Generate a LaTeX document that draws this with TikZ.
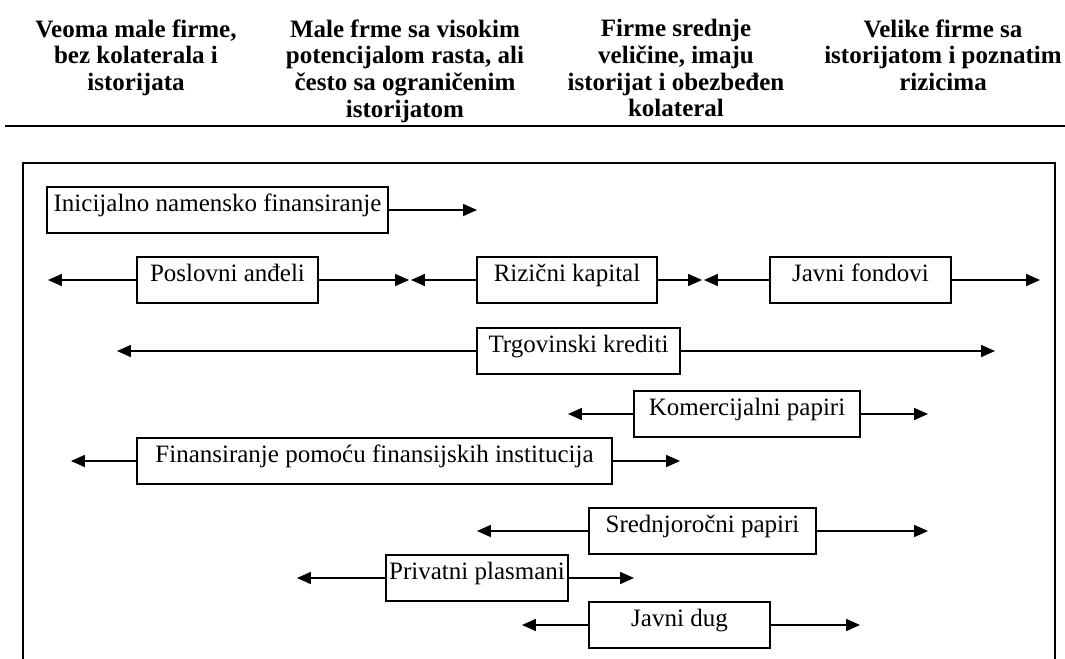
\documentclass[tikz,border=0pt]{standalone}
\usepackage{fontspec}
\setmainfont{Liberation Serif}
\usetikzlibrary{arrows.meta}
\begin{document}
\begin{tikzpicture}[x=0.48pt,y=-0.48pt,
  box/.style={draw, line width=0.75pt, inner sep=0pt, text height=11.76pt, text depth=10.32pt, font=\fontsize{12}{14}\selectfont},
  hdr/.style={anchor=north, inner sep=0pt, align=center, font=\fontsize{12}{12.8}\selectfont\bfseries},
  arr/.style={line width=0.72pt, -{Triangle[length=6.7pt,width=5.8pt]}},
  rulestyle/.style={line width=1.2pt},
  framestyle/.style={line width=0.8pt}
]
\useasboundingbox (0,0) rectangle (1065,658);

% header
\node[hdr] (h1) at (136,19) {Veoma male firme,\\bez kolaterala i\\istorijata};
\node[hdr] (h2) at (405,19) {Male frme sa visokim\\potencijalom rasta, ali\\često sa ograničenim\\istorijatom};
\node[hdr] (h3) at (676,19) {Firme srednje\\veličine, imaju\\istorijat i obezbeđen\\kolateral};
\node[hdr] (h4) at (943,19) {Velike firme sa\\istorijatom i poznatim\\rizicima};
\draw[rulestyle] (5,126) -- (1065,126);

% frame
\draw[framestyle] (23,660) -- (23,163) -- (1055,163) -- (1055,660);

% boxes
\node[box, minimum width=163.68pt] (inic) at (217.5,210) {Inicijalno namensko finansiranje};
\node[box, minimum width=86.88pt] (posl) at (227.5,280) {Poslovni anđeli};
\node[box, minimum width=86.4pt] (rizi) at (567,280) {Rizični kapital};
\node[box, minimum width=86.88pt] (jfon) at (860.5,280) {Javni fondovi};
\node[box, minimum width=97.44pt] (trgo) at (578.5,351) {Trgovinski krediti};
\node[box, minimum width=108.48pt] (kome) at (747,414) {Komercijalni papiri};
\node[box, minimum width=228pt] (fina) at (374.5,461) {Finansiranje pomoću finansijskih institucija};
\node[box, minimum width=108.96pt] (sred) at (702.5,531) {Srednjoročni papiri};
\node[box, minimum width=87.36pt] (priv) at (477,578) {Privatni plasmani};
\node[box, minimum width=86.88pt] (jdug) at (679.5,625) {Javni dug};

% arrow tips
\coordinate (inicR) at (477,210);
\coordinate (poslL) at (48,280);
\coordinate (poslR) at (409,280);
\coordinate (riziL) at (411,280);
\coordinate (riziR) at (702,280);
\coordinate (jfonL) at (704,280);
\coordinate (jfonR) at (1040,280);
\coordinate (trgoL) at (117,351);
\coordinate (trgoR) at (995,351);
\coordinate (komeL) at (568,414);
\coordinate (komeR) at (928,414);
\coordinate (finaL) at (71,461);
\coordinate (finaR) at (680,461);
\coordinate (sredL) at (477,531);
\coordinate (sredR) at (928,531);
\coordinate (privL) at (297,578);
\coordinate (privR) at (634,578);
\coordinate (jdugL) at (522,625);
\coordinate (jdugR) at (860,625);

% arrows
\draw[arr] (inic.east) -- (inicR);
\draw[arr] (posl.west) -- (poslL);
\draw[arr] (posl.east) -- (poslR);
\draw[arr] (rizi.west) -- (riziL);
\draw[arr] (rizi.east) -- (riziR);
\draw[arr] (jfon.west) -- (jfonL);
\draw[arr] (jfon.east) -- (jfonR);
\draw[arr] (trgo.west) -- (trgoL);
\draw[arr] (trgo.east) -- (trgoR);
\draw[arr] (kome.west) -- (komeL);
\draw[arr] (kome.east) -- (komeR);
\draw[arr] (fina.west) -- (finaL);
\draw[arr] (fina.east) -- (finaR);
\draw[arr] (sred.west) -- (sredL);
\draw[arr] (sred.east) -- (sredR);
\draw[arr] (priv.west) -- (privL);
\draw[arr] (priv.east) -- (privR);
\draw[arr] (jdug.west) -- (jdugL);
\draw[arr] (jdug.east) -- (jdugR);
\end{tikzpicture}
\end{document}
